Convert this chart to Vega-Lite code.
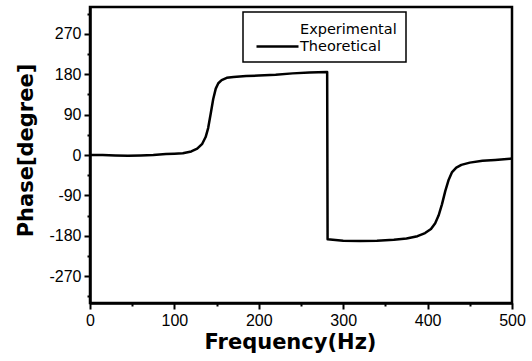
{
  "$schema": "https://vega.github.io/schema/vega-lite/v6.json",
  "autosize": {"type": "none"},
  "width": 422,
  "height": 296,
  "padding": {"left": 90, "top": 7, "right": 20, "bottom": 58},
  "background": "white",
  "data": {
    "values": [
      {"freq": 0, "phase": 0, "series": "Theoretical"},
      {"freq": 15, "phase": 0, "series": "Theoretical"},
      {"freq": 30, "phase": -1, "series": "Theoretical"},
      {"freq": 45, "phase": -1.5, "series": "Theoretical"},
      {"freq": 60, "phase": -1, "series": "Theoretical"},
      {"freq": 75, "phase": 0, "series": "Theoretical"},
      {"freq": 90, "phase": 2, "series": "Theoretical"},
      {"freq": 100, "phase": 3, "series": "Theoretical"},
      {"freq": 110, "phase": 4, "series": "Theoretical"},
      {"freq": 120, "phase": 8, "series": "Theoretical"},
      {"freq": 127, "phase": 14, "series": "Theoretical"},
      {"freq": 133, "phase": 25, "series": "Theoretical"},
      {"freq": 137, "phase": 40, "series": "Theoretical"},
      {"freq": 140, "phase": 60, "series": "Theoretical"},
      {"freq": 143, "phase": 92, "series": "Theoretical"},
      {"freq": 146, "phase": 125, "series": "Theoretical"},
      {"freq": 149, "phase": 148, "series": "Theoretical"},
      {"freq": 152, "phase": 160, "series": "Theoretical"},
      {"freq": 156, "phase": 167, "series": "Theoretical"},
      {"freq": 162, "phase": 172, "series": "Theoretical"},
      {"freq": 170, "phase": 174, "series": "Theoretical"},
      {"freq": 185, "phase": 176, "series": "Theoretical"},
      {"freq": 200, "phase": 177, "series": "Theoretical"},
      {"freq": 220, "phase": 179, "series": "Theoretical"},
      {"freq": 240, "phase": 182, "series": "Theoretical"},
      {"freq": 260, "phase": 184, "series": "Theoretical"},
      {"freq": 281, "phase": 185, "series": "Theoretical"},
      {"freq": 281.5, "phase": -188, "series": "Theoretical"},
      {"freq": 300, "phase": -191, "series": "Theoretical"},
      {"freq": 320, "phase": -192, "series": "Theoretical"},
      {"freq": 340, "phase": -191, "series": "Theoretical"},
      {"freq": 360, "phase": -189, "series": "Theoretical"},
      {"freq": 375, "phase": -186, "series": "Theoretical"},
      {"freq": 388, "phase": -181, "series": "Theoretical"},
      {"freq": 397, "phase": -174, "series": "Theoretical"},
      {"freq": 404, "phase": -165, "series": "Theoretical"},
      {"freq": 409, "phase": -152, "series": "Theoretical"},
      {"freq": 413, "phase": -135, "series": "Theoretical"},
      {"freq": 417, "phase": -110, "series": "Theoretical"},
      {"freq": 421, "phase": -80, "series": "Theoretical"},
      {"freq": 425, "phase": -55, "series": "Theoretical"},
      {"freq": 429, "phase": -38, "series": "Theoretical"},
      {"freq": 434, "phase": -28, "series": "Theoretical"},
      {"freq": 440, "phase": -22, "series": "Theoretical"},
      {"freq": 450, "phase": -17, "series": "Theoretical"},
      {"freq": 465, "phase": -13, "series": "Theoretical"},
      {"freq": 480, "phase": -11, "series": "Theoretical"},
      {"freq": 500, "phase": -8, "series": "Theoretical"}
    ]
  },
  "mark": {"type": "line", "strokeWidth": 2.5, "strokeJoin": "round", "clip": true},
  "encoding": {
    "x": {
      "field": "freq",
      "type": "quantitative",
      "scale": {"domain": [0, 500], "nice": false, "zero": false},
      "axis": {
        "title": "Frequency(Hz)",
        "values": [0, 50, 100, 150, 200, 250, 300, 350, 400, 450, 500],
        "labelExpr": "datum.value % 100 === 0 ? '' + datum.value : ''",
        "labelFlush": false,
        "tickSize": {"condition": {"test": "datum.value % 100 === 0", "value": 6}, "value": 3},
        "titleX": 200,
        "titlePadding": 3
      }
    },
    "y": {
      "field": "phase",
      "type": "quantitative",
      "scale": {"domain": [-330, 330], "nice": false, "zero": false},
      "axis": {
        "title": "Phase[degree]",
        "values": [-315, -270, -225, -180, -135, -90, -45, 0, 45, 90, 135, 180, 225, 270, 315],
        "labelExpr": "datum.value % 90 === 0 ? '' + datum.value : ''",
        "labelFlush": false,
        "tickSize": {"condition": {"test": "datum.value % 90 === 0", "value": 6}, "value": 3},
        "titleY": 143,
        "titlePadding": 12
      }
    },
    "color": {
      "field": "series",
      "type": "nominal",
      "scale": {"domain": ["Experimental", "Theoretical"], "range": ["white", "black"]},
      "legend": {
        "title": null,
        "orient": "none",
        "legendX": 153,
        "legendY": 5,
        "direction": "vertical",
        "symbolType": "M-3,0H3",
        "symbolSize": 196,
        "symbolStrokeWidth": 2.5,
        "symbolOffset": 17,
        "labelOffset": 14,
        "labelFont": "DejaVu Sans",
        "labelFontSize": 14.5,
        "labelColor": "black",
        "padding": 9,
        "rowPadding": 2,
        "strokeColor": "black",
        "fillColor": "white",
        "cornerRadius": 0,
        "encode": {
          "legend": {"update": {"strokeWidth": {"value": 1.5}}}
        }
      }
    }
  },
  "config": {
    "view": {"stroke": "black", "strokeWidth": 2.5},
    "axis": {
      "domainColor": "black",
      "domainWidth": 2.5,
      "tickColor": "black",
      "tickWidth": 2,
      "grid": false,
      "labelFont": "Liberation Sans",
      "labelFontSize": 16,
      "labelColor": "black",
      "labelPadding": 3,
      "titleFont": "DejaVu Sans",
      "titleFontWeight": "bold",
      "titleFontSize": 21,
      "titleColor": "black"
    }
  }
}
